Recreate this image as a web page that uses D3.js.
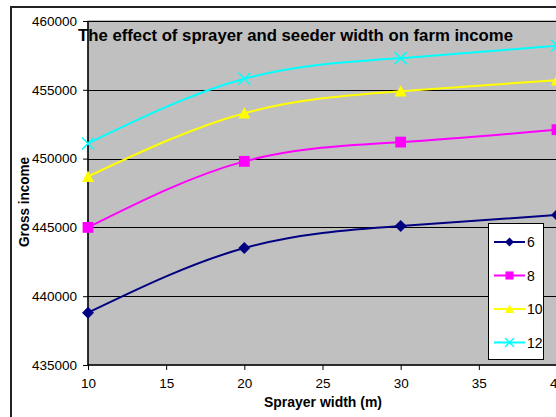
<!DOCTYPE html>
<html><head><meta charset="utf-8">
<script src="https://cdn.jsdelivr.net/npm/d3@7"></script>
<style>html,body{margin:0;padding:0;background:#fff;overflow:hidden}</style>
</head><body>
<svg id="chart" width="556" height="417"></svg>
<script>
const xValues = [10, 20, 30, 40];
const seriesNames = ["6", "8", "10", "12"];
const s6 = [438800, 443500, 445100, 445900];
const s8 = [445000, 449800, 451200, 452100];
const s10 = [448700, 453300, 454900, 455700];
const s12 = [451100, 455800, 457300, 458200];
const xTicks = [10, 15, 20, 25, 30, 35, 40];
const yTicks = [435000, 440000, 445000, 450000, 455000, 460000];
const titleText = "The effect of sprayer and seeder width on farm income";
const xTitle = "Sprayer width (m)";
const yTitle = "Gross income";

const colors = ["#000080", "#FF00FF", "#FFFF00", "#00FFFF"];
const markers = ["diamond", "square", "triangle", "x"];
const allSeries = [s6, s8, s10, s12];
const font = "'Liberation Sans', Arial, sans-serif";

const svg = d3.select("#chart");
const L = 88, R = 557, T = 21, B = 365;
const x = d3.scaleLinear().domain([10, 40]).range([L, R]);
const y = d3.scaleLinear().domain([435000, 460000]).range([B, T]);

// outer chart border
svg.append("rect").attr("x", 11).attr("y", 7).attr("width", 600).attr("height", 500)
  .attr("fill", "#fff").attr("stroke", "#222").attr("stroke-width", 2);

// plot area
svg.append("rect").attr("x", L).attr("y", T).attr("width", R - L).attr("height", B - T)
  .attr("fill", "#C0C0C0").attr("stroke", "#808080").attr("stroke-width", 1);

// grid
svg.append("g").selectAll("line").data(yTicks.slice(1)).join("line")
  .attr("x1", L).attr("x2", R).attr("y1", d => Math.round(y(d)) + 0.5).attr("y2", d => Math.round(y(d)) + 0.5)
  .attr("stroke", "#000").attr("stroke-width", 1);

// axes
const yAxis = svg.append("g").attr("transform", `translate(${L},0)`)
  .call(d3.axisLeft(y).tickValues(yTicks).tickSize(5).tickPadding(6).tickFormat(d3.format("d")));
const xAxis = svg.append("g").attr("transform", `translate(0,${B})`)
  .call(d3.axisBottom(x).tickValues(xTicks).tickSize(5).tickPadding(8).tickFormat(d3.format("d")));
[yAxis, xAxis].forEach(a => {
  a.select(".domain").attr("stroke", "#000").attr("stroke-width", 1.5);
  a.selectAll(".tick line").attr("stroke", "#000");
  a.selectAll("text").attr("font-family", font).attr("font-size", "13.5px").attr("fill", "#000");
});
yAxis.select(".domain").attr("d", `M0,${T}V${B}`);
xAxis.select(".domain").attr("d", `M${L},0H${R}`);

// lines
const line = d3.line().x((d, i) => x(xValues[i])).y(d => y(d)).curve(d3.curveNatural);
allSeries.forEach((s, k) => {
  svg.append("path").attr("d", line(s)).attr("fill", "none")
    .attr("stroke", colors[k]).attr("stroke-width", 2);
});

function marker(g, type, cx, cy, size, color) {
  const h = size / 2;
  if (type === "diamond") {
    g.append("path").attr("d", `M${cx},${cy - h}L${cx + h},${cy}L${cx},${cy + h}L${cx - h},${cy}Z`).attr("fill", color);
  } else if (type === "square") {
    g.append("rect").attr("x", cx - h * 0.9).attr("y", cy - h * 0.9).attr("width", size * 0.9).attr("height", size * 0.9).attr("fill", color);
  } else if (type === "triangle") {
    g.append("path").attr("d", `M${cx},${cy - h}L${cx + h},${cy + h * 0.9}L${cx - h},${cy + h * 0.9}Z`).attr("fill", color);
  } else {
    g.append("path").attr("d", `M${cx - h},${cy - h}L${cx + h},${cy + h}M${cx - h},${cy + h}L${cx + h},${cy - h}`)
      .attr("stroke", color).attr("stroke-width", 1.5).attr("fill", "none");
  }
}
allSeries.forEach((s, k) => {
  const g = svg.append("g");
  s.forEach((v, i) => marker(g, markers[k], x(xValues[i]), y(v), 12, colors[k]));
});

// title
svg.append("text").attr("x", 295.5).attr("y", 41).attr("text-anchor", "middle")
  .attr("font-family", font).attr("font-weight", "bold").attr("font-size", "16.5px")
  .attr("textLength", 435).attr("lengthAdjust", "spacingAndGlyphs").text(titleText);

// axis titles
svg.append("text").attr("x", 323).attr("y", 407).attr("text-anchor", "middle")
  .attr("font-family", font).attr("font-weight", "bold").attr("font-size", "15px")
  .attr("textLength", 118).attr("lengthAdjust", "spacingAndGlyphs").text(xTitle);
svg.append("text").attr("transform", "translate(28.5,202) rotate(-90)").attr("text-anchor", "middle")
  .attr("font-family", font).attr("font-weight", "bold").attr("font-size", "15px")
  .attr("textLength", 90).attr("lengthAdjust", "spacingAndGlyphs").text(yTitle);

// legend
const lg = svg.append("g");
lg.append("rect").attr("x", 488.5).attr("y", 223.5).attr("width", 55).attr("height", 136)
  .attr("fill", "#fff").attr("stroke", "#000").attr("stroke-width", 1);
const legY = [242, 275.5, 309, 342.5];
seriesNames.forEach((n, k) => {
  lg.append("line").attr("x1", 494).attr("x2", 525).attr("y1", legY[k]).attr("y2", legY[k])
    .attr("stroke", colors[k]).attr("stroke-width", 2);
  marker(lg, markers[k], 509.5, legY[k], 9, colors[k]);
  lg.append("text").attr("x", 527).attr("y", legY[k]).attr("dy", "0.36em")
    .attr("font-family", font).attr("font-size", "14px").text(n);
});
</script>
</body></html>
